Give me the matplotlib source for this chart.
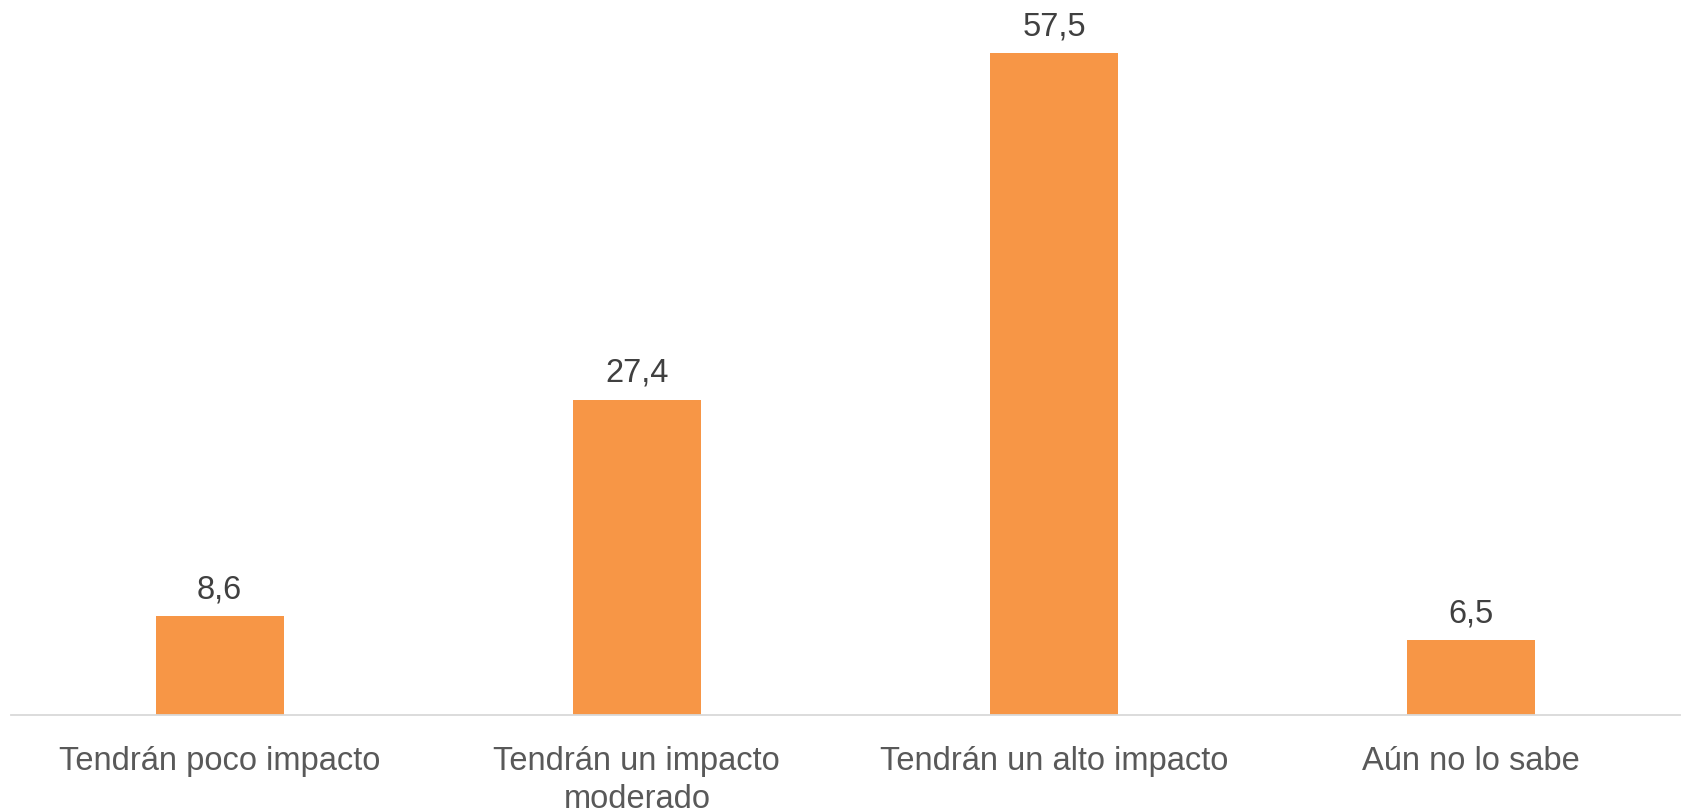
import matplotlib
matplotlib.use("Agg")
import matplotlib.pyplot as plt

categories = ["Tendrán poco impacto", "Tendrán un impacto\nmoderado", "Tendrán un alto impacto", "Aún no lo sabe"]
values = [8.6, 27.4, 57.5, 6.5]
value_labels = ["8,6", "27,4", "57,5", "6,5"]

plt.rcParams['font.family'] = ['Liberation Sans', 'DejaVu Sans']

fig = plt.figure(figsize=(16.83, 8.12), dpi=100)
ax = fig.add_axes([11/1683, 1 - 716/812, 1669/1683, 690.6/812])

x = list(range(len(categories)))
bars = ax.bar(x, values, width=0.307, color="#F79646")
ax.set_xlim(-0.5, len(categories) - 0.5)
ax.set_ylim(0, 60)

for xi, v, lab in zip(x, values, value_labels):
    ax.annotate(lab, (xi, v), xytext=(0, 13.5), textcoords="offset points",
                ha="center", va="baseline", fontsize=23.5, color="#404040")

ax.set_xticks(x)
ax.set_xticklabels(categories, fontsize=23.5, color="#595959", linespacing=1.28)
ax.tick_params(axis="x", length=0, pad=21.5)
ax.set_yticks([])
for s in ["top", "right", "left"]:
    ax.spines[s].set_visible(False)
ax.spines["bottom"].set_color("#D9D9D9")
ax.spines["bottom"].set_linewidth(1.3)

fig.savefig("out.png", dpi=100)
